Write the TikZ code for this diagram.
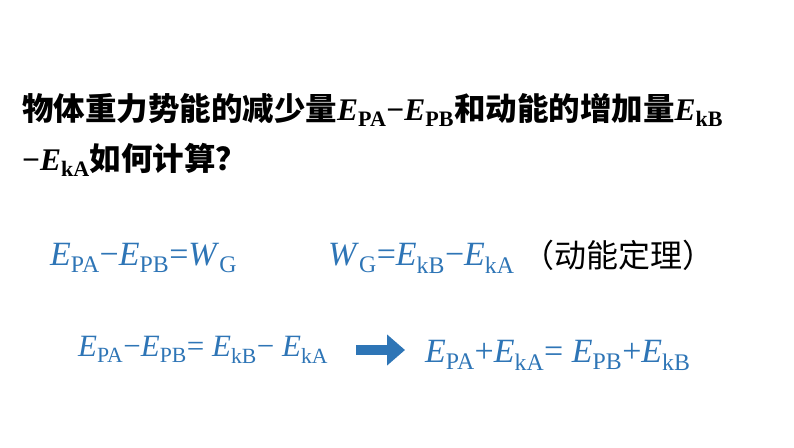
\documentclass[tikz,border=0pt]{standalone}
\usepackage{fontspec}
\setmainfont{Liberation Serif}
\newfontfamily\cjk{Noto Sans CJK SC}
\usetikzlibrary{arrows.meta}
\definecolor{eqblue}{RGB}{46,117,182}
\newcommand{\ev}[1]{\textit{E}\textsubscript{#1}}
\begin{document}
\begin{tikzpicture}[x=1pt,y=1pt]
\tikzset{
  question/.style={anchor=west,inner sep=0pt,font=\fontsize{31.5}{36}\selectfont\bfseries},
  formula/.style={anchor=west,inner sep=0pt,text=eqblue,font=\fontsize{34}{38}\selectfont},
  flowarrow/.style={draw=eqblue,fill=eqblue,line width=10pt,-{Triangle[length=18pt,width=30pt]}}
}
\useasboundingbox (0,0) rectangle (794,-447);
% question
\node[question] (q1) at (22,-110) {{\cjk\bfseries 物体重力势能的减少量}\ev{\textbf{PA}}{\bfseries−}\ev{\textbf{PB}}{\cjk\bfseries 和动能的增加量}\ev{\textbf{kB}}};
\node[question] (q2) at (22,-160) {{\bfseries−}\ev{\textbf{kA}}{\cjk\bfseries 如何计算？}};
% formulas
\node[formula] (f1) at (50,-258) {\ev{PA}−\ev{PB}=\textit{W}\textsubscript{G}};
\node[formula] (f2) at (328,-258) {\textit{W}\textsubscript{G}=\ev{kB}−\ev{kA}};
\node[anchor=west,inner sep=0pt,font=\fontsize{32}{36}\selectfont\cjk] (f3) at (522,-255) {（动能定理）};
\node[formula,font=\fontsize{31}{36}\selectfont] (f4) at (78,-350) {\ev{PA}−\ev{PB}= \ev{kB}− \ev{kA}};
\node[formula] (f5) at (425,-355) {\ev{PA}+\ev{kA}= \ev{PB}+\ev{kB}};
\coordinate (a1) at (356,-350);
\coordinate (a2) at (405,-350);
\draw[flowarrow] (a1) -- (a2);
\end{tikzpicture}
\end{document}
